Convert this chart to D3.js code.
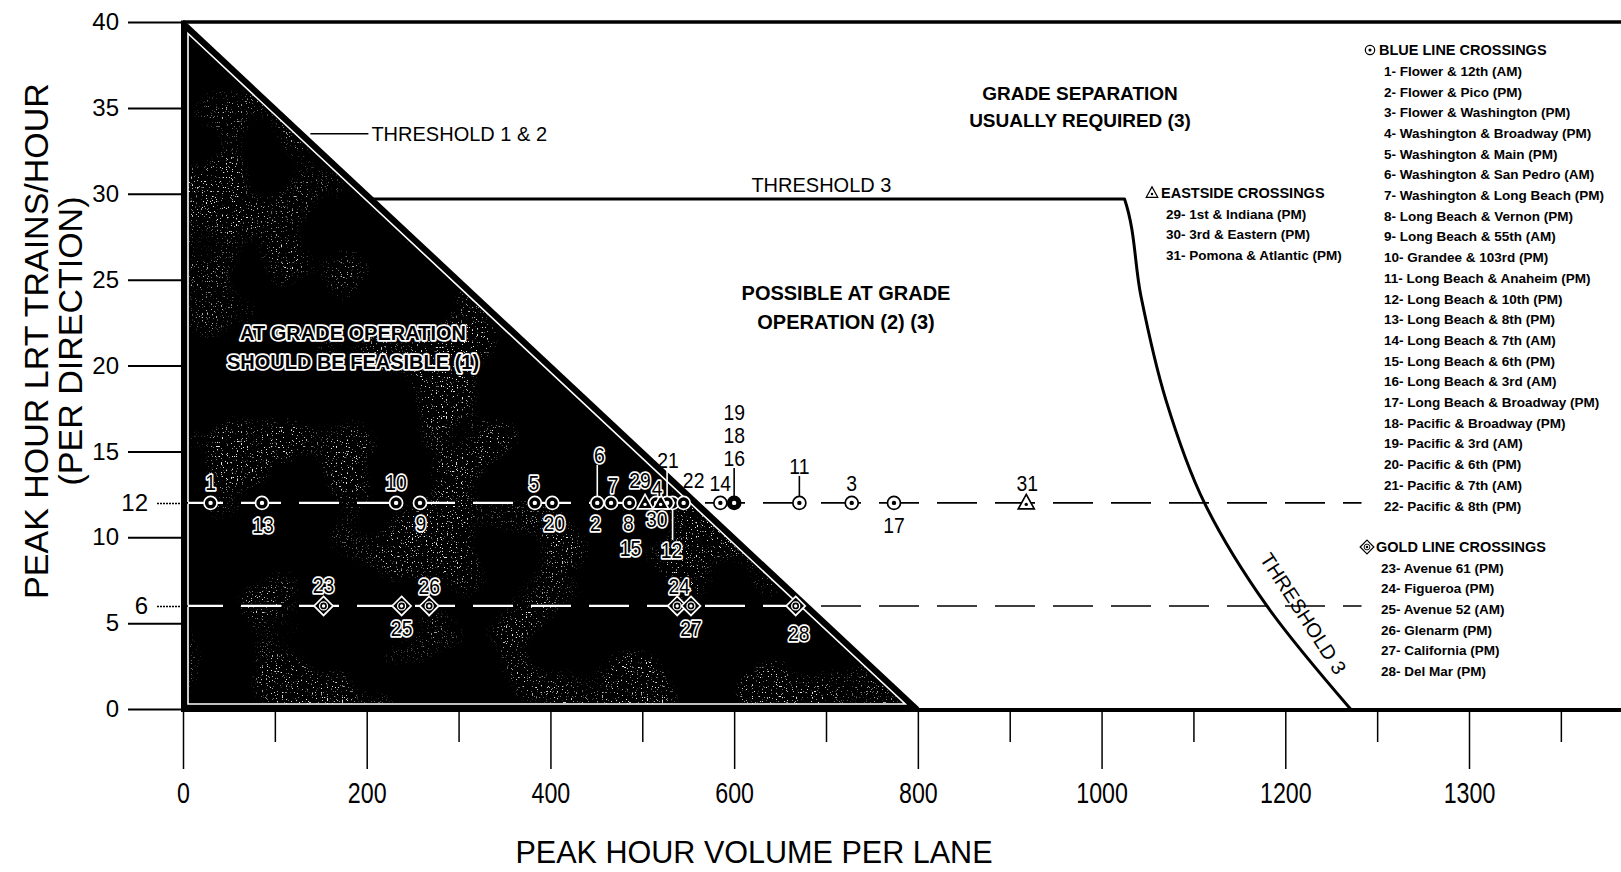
<!DOCTYPE html>
<html>
<head>
<meta charset="utf-8">
<script src="https://cdn.jsdelivr.net/npm/d3@7"></script>
<style>
  body { margin: 0; background: #fff; }
  svg { display: block; }
  text { font-family: "Liberation Sans", Arial, sans-serif; fill: #000; }
</style>
</head>
<body>
<svg id="chart"></svg>
<script>
// axis ticks
const xTickValues = [0, 100, 200, 300, 400, 500, 600, 700, 800, 900, 1000, 1100, 1200, 1300, 1400, 1500];
const xLabelValues = [0, 200, 400, 600, 800, 1000, 1200, 1400];
const xLabels = ["0", "200", "400", "600", "800", "1000", "1200", "1300"];
const yTickValues = [0, 5, 10, 15, 20, 25, 30, 35, 40];
const yExtraTicks = [12, 6];

// threshold lines (volume, trains)
const thr12Volume = [0, 800];
const thr12Trains = [40, 0];
const thr3Volume = [206, 1025, 1043, 1070, 1112, 1180, 1271];
const thr3Trains = [29.7, 29.7, 24, 18, 12, 6, 0];

// crossings
const blueIds = [1, 2, 3, 4, 5, 6, 7, 8, 9, 10, 11, 12, 13, 14, 15, 16, 17, 18, 19, 20, 21, 22];
const blueVolume = [30, 451, 728, 515, 383, 451, 466, 486, 258, 232, 671, 533, 86, 585, 486, 600, 774, 600, 600, 402, 527, 545];
const blueTrains = [12, 12, 12, 12, 12, 12, 12, 12, 12, 12, 12, 12, 12, 12, 12, 12, 12, 12, 12, 12, 12, 12];
const blueNames = ["Flower & 12th (AM)", "Flower & Pico (PM)", "Flower & Washington (PM)", "Washington & Broadway (PM)",
  "Washington & Main (PM)", "Washington & San Pedro (AM)", "Washington & Long Beach (PM)", "Long Beach & Vernon (PM)",
  "Long Beach & 55th (AM)", "Grandee & 103rd (PM)", "Long Beach & Anaheim (PM)", "Long Beach & 10th (PM)",
  "Long Beach & 8th (PM)", "Long Beach & 7th (AM)", "Long Beach & 6th (PM)", "Long Beach & 3rd (AM)",
  "Long Beach & Broadway (PM)", "Pacific & Broadway (PM)", "Pacific & 3rd (AM)", "Pacific & 6th (PM)",
  "Pacific & 7th (AM)", "Pacific & 8th (PM)"];

const goldIds = [23, 24, 25, 26, 27, 28];
const goldVolume = [153, 538, 238, 268, 553, 667];
const goldTrains = [6, 6, 6, 6, 6, 6];
const goldNames = ["Avenue 61 (PM)", "Figueroa (PM)", "Avenue 52 (AM)", "Glenarm (PM)", "California (PM)", "Del Mar (PM)"];

const eastIds = [29, 30, 31];
const eastVolume = [503, 520, 918];
const eastTrains = [12, 12, 12];
const eastNames = ["1st & Indiana (PM)", "3rd & Eastern (PM)", "Pomona & Atlantic (PM)"];

// label offsets from the marker (px) - layout only
const labelOffset = {
  1: [0, -21], 2: [-2, 20], 3: [0, -20], 4: [1, -15], 5: [-1, -20], 6: [2, -48], 7: [2, -18], 8: [-1, 20],
  9: [1, 20], 10: [0, -21], 11: [0, -37], 12: [-1, 47], 13: [1, 22], 14: [0, -20], 15: [1, 45], 16: [0, -45],
  17: [0, 22], 18: [0, -68], 19: [0, -91], 20: [2, 20], 21: [1, -43], 22: [10, -23],
  23: [0, -21], 24: [2, -20], 25: [0, 22], 26: [0, -20], 27: [0, 22], 28: [3, 27],
  29: [-5, -23], 30: [-4, 16], 31: [1, -20]
};
const leaderIds = [6, 11, 12, 16, 21];

const W = 1621, H = 872;
const x = d3.scaleLinear().domain([0, 1400]).range([183, 1469]);
const y = d3.scaleLinear().domain([0, 40]).range([709, 22]);
const rowEnd = 1283;   // the crossing rows stop before the legend

const svg = d3.select("#chart").attr("width", W).attr("height", H);
const defs = svg.append("defs");

// triangle "at grade" region
const triTop = [x(thr12Volume[0]), y(thr12Trains[0])];
const triRight = [x(thr12Volume[1]), y(thr12Trains[1])];
const triCorner = [x(0), y(0)];

function inset(o) {
  const dx = triRight[0] - triTop[0], dy = triRight[1] - triTop[1], len = Math.hypot(dx, dy);
  const qx = triTop[0] - o * dy / len, qy = triTop[1] + o * dx / len;
  const px = triCorner[0] + o, py = triCorner[1] - o;
  const yAtLeft = qy + (px - qx) / dx * dy;
  const xAtBottom = qx + (py - qy) / dy * dx;
  return [[px, yAtLeft], [xAtBottom, py], [px, py]];
}
const inner = inset(5);

defs.append("clipPath").attr("id", "triClip")
  .append("polygon").attr("points", inner.map(p => p.join(",")).join(" "));

// scanner speckle inside the black triangle
const f = defs.append("filter").attr("id", "speck")
  .attr("x", 0).attr("y", 0).attr("width", "100%").attr("height", "100%")
  .attr("color-interpolation-filters", "sRGB");
f.append("feTurbulence").attr("type", "fractalNoise").attr("baseFrequency", 0.8)
  .attr("numOctaves", 1).attr("seed", 4).attr("result", "hi");
f.append("feColorMatrix").attr("in", "hi").attr("type", "matrix")
  .attr("values", "0 0 0 0 1  0 0 0 0 1  0 0 0 0 1  14 0 0 0 -8.9").attr("result", "sp");
f.append("feTurbulence").attr("type", "fractalNoise").attr("baseFrequency", 0.012)
  .attr("numOctaves", 2).attr("seed", 23).attr("result", "lo");
f.append("feColorMatrix").attr("in", "lo").attr("type", "matrix")
  .attr("values", "0 0 0 0 1  0 0 0 0 1  0 0 0 0 1  7 0 0 0 -3.6").attr("result", "cl");
f.append("feComposite").attr("in", "sp").attr("in2", "cl").attr("operator", "in");

svg.append("polygon")
  .attr("points", [triTop, triRight, triCorner].map(p => p.join(",")).join(" "))
  .attr("fill", "#000");
svg.append("rect")
  .attr("x", triCorner[0]).attr("y", triTop[1]).attr("width", triRight[0] - triCorner[0]).attr("height", triCorner[1] - triTop[1])
  .attr("clip-path", "url(#triClip)").attr("filter", "url(#speck)").attr("opacity", 0.9);
svg.append("polygon")
  .attr("points", inner.map(p => p.join(",")).join(" "))
  .attr("fill", "none").attr("stroke", "#fff").attr("stroke-width", 1.6);

// frame
svg.append("line").attr("x1", x(0)).attr("x2", W).attr("y1", y(40)).attr("y2", y(40))
  .attr("stroke", "#000").attr("stroke-width", 3.5);
svg.append("line").attr("x1", x(0)).attr("x2", W).attr("y1", y(0) + 1).attr("y2", y(0) + 1)
  .attr("stroke", "#000").attr("stroke-width", 4);
svg.append("line").attr("x1", x(0)).attr("x2", x(0)).attr("y1", y(40) - 1.5).attr("y2", y(0) + 3)
  .attr("stroke", "#000").attr("stroke-width", 4);

const lineGen = d3.line().x(d => x(d[0])).y(d => y(d[1]));
svg.append("path").datum(thr12Volume.map((v, i) => [v, thr12Trains[i]]))
  .attr("d", lineGen).attr("fill", "none").attr("stroke", "#000").attr("stroke-width", 4);
svg.append("path").datum(thr3Volume.map((v, i) => [v, thr3Trains[i]]))
  .attr("d", d3.line().x(d => x(d[0])).y(d => y(d[1])).curve(d3.curveMonotoneY))
  .attr("fill", "none").attr("stroke", "#000").attr("stroke-width", 3).attr("stroke-linejoin", "round");

// dashed crossing rows
const rows = [12, 6];
rows.forEach(t => {
  svg.append("line").attr("x1", x(0)).attr("x2", x(rowEnd)).attr("y1", y(t)).attr("y2", y(t))
    .attr("stroke", "#000").attr("stroke-width", 1.6).attr("stroke-dasharray", "40,18");
  svg.append("line").attr("x1", x(0)).attr("x2", x(rowEnd)).attr("y1", y(t)).attr("y2", y(t))
    .attr("clip-path", "url(#triClip)")
    .attr("stroke", "#fff").attr("stroke-width", 2.2).attr("stroke-dasharray", "40,18");
});

// axes
const xAxis = svg.append("g").attr("transform", `translate(0,${y(0) + 3})`)
  .call(d3.axisBottom(x).tickValues(xTickValues).tickSize(57).tickPadding(13)
    .tickFormat(v => { const i = xLabelValues.indexOf(v); return i < 0 ? "" : xLabels[i]; }));
xAxis.select(".domain").remove();
xAxis.selectAll(".tick line").attr("stroke-width", 1.5)
  .attr("y2", v => xLabelValues.includes(v) ? 57 : 30);
xAxis.selectAll(".tick text").attr("font-size", 29).attr("fill", "#000")
  .attr("transform", "scale(0.8,1)");

const yAxis = svg.append("g").attr("transform", `translate(${x(0)},0)`)
  .call(d3.axisLeft(y).tickValues(yTickValues).tickSize(55).tickPadding(9));
yAxis.select(".domain").remove();
yAxis.selectAll(".tick line").attr("stroke-width", 2);
yAxis.selectAll(".tick text").attr("font-size", 24).attr("fill", "#000");

const yAxis2 = svg.append("g").attr("transform", `translate(${x(0)},0)`)
  .call(d3.axisLeft(y).tickValues(yExtraTicks).tickSize(26).tickPadding(9));
yAxis2.select(".domain").remove();
yAxis2.selectAll(".tick line").attr("stroke-width", 1.5).attr("stroke-dasharray", "2,1");
yAxis2.selectAll(".tick text").attr("font-size", 24).attr("fill", "#000");

// markers
function isInside(px, py) {
  const v = x.invert(px), t = y.invert(py);
  return v >= 0 && t >= 0 && t <= thr12Trains[0] * (1 - v / thr12Volume[1]);
}

function drawMarker(g, type, cx, cy, inside, filled, k) {
  const ink = inside ? "#fff" : "#000", paper = inside ? "#000" : "#fff";
  const m = g.append("g").attr("transform", `translate(${cx},${cy}) scale(${k || 1})`);
  if (type === "blue") {
    m.append("circle").attr("r", 6.5).attr("fill", filled ? ink : paper).attr("stroke", ink).attr("stroke-width", 1.7);
    m.append("circle").attr("r", 2.2).attr("fill", filled ? paper : ink);
  } else if (type === "gold") {
    m.append("path").attr("d", "M0,-9.5L9.5,0L0,9.5L-9.5,0Z").attr("fill", paper).attr("stroke", ink).attr("stroke-width", 1.7);
    m.append("circle").attr("r", 4).attr("fill", "none").attr("stroke", ink).attr("stroke-width", 1.3);
    m.append("circle").attr("r", 1.7).attr("fill", ink);
  } else {
    m.append("path").attr("d", "M0,-8.5L8,6L-8,6Z").attr("fill", paper).attr("stroke", ink).attr("stroke-width", 1.7);
    m.append("circle").attr("cy", 1.5).attr("r", 1.7).attr("fill", ink);
  }
}

const points = [];
blueIds.forEach((id, i) => points.push({ id, type: "blue", volume: blueVolume[i], trains: blueTrains[i] }));
goldIds.forEach((id, i) => points.push({ id, type: "gold", volume: goldVolume[i], trains: goldTrains[i] }));
eastIds.forEach((id, i) => points.push({ id, type: "east", volume: eastVolume[i], trains: eastTrains[i] }));

const markerG = svg.append("g");
const labelG = svg.append("g");

// leaders
points.filter(p => leaderIds.includes(p.id)).forEach(p => {
  const cx = x(p.volume), cy = y(p.trains);
  const [dx, dy] = labelOffset[p.id];
  const y2 = cy + dy + (dy < 0 ? 10 : -10);
  const y1 = cy + (dy < 0 ? -6 : 6);
  markerG.append("line").attr("x1", cx).attr("x2", cx).attr("y1", y1).attr("y2", y2)
    .attr("stroke", isInside(cx, (y1 + y2) / 2) ? "#fff" : "#000").attr("stroke-width", 1.6);
});

const groups = d3.group(points, p => p.type + "_" + p.volume + "_" + p.trains);
groups.forEach(arr => {
  const p = arr[0];
  const cx = x(p.volume), cy = y(p.trains);
  drawMarker(markerG, p.type, cx, cy, isInside(cx, cy), arr.length >= 3);
});

points.forEach(p => {
  const [dx, dy] = labelOffset[p.id];
  const lx = x(p.volume) + dx, ly = y(p.trains) + dy;
  const inside = isInside(lx, ly);
  const t = labelG.append("text")
    .attr("transform", `translate(${lx},${ly}) scale(0.88,1)`).attr("dy", "0.35em")
    .attr("text-anchor", "middle").attr("font-size", 22).text(p.id);
  if (inside) t.attr("stroke", "#fff").attr("stroke-width", 3.4).attr("paint-order", "stroke")
    .attr("stroke-linejoin", "round");
});

// annotations
const ann = svg.append("g");
const t12y = y(33.5);
const t12x = x(thr12Volume[1] * (1 - 33.5 / thr12Trains[0]));
ann.append("line").attr("x1", t12x + 8).attr("x2", t12x + 66).attr("y1", t12y).attr("y2", t12y)
  .attr("stroke", "#000").attr("stroke-width", 1.5);
ann.append("text").attr("x", t12x + 69).attr("y", t12y).attr("dy", "0.36em")
  .attr("font-size", 20).text("THRESHOLD 1 & 2");

ann.append("text").attr("x", x(695)).attr("y", y(thr3Trains[1]) - 14).attr("dy", "0.36em")
  .attr("text-anchor", "middle").attr("font-size", 20).text("THRESHOLD 3");

[["GRADE SEPARATION", 93], ["USUALLY REQUIRED (3)", 120]].forEach(d =>
  ann.append("text").attr("x", 1080).attr("y", d[1]).attr("dy", "0.36em").attr("text-anchor", "middle")
    .attr("font-size", 19).attr("font-weight", "bold").text(d[0]));
[["POSSIBLE AT GRADE", 293], ["OPERATION (2) (3)", 322]].forEach(d =>
  ann.append("text").attr("x", 846).attr("y", d[1]).attr("dy", "0.36em").attr("text-anchor", "middle")
    .attr("font-size", 20).attr("font-weight", "bold").text(d[0]));
[["AT GRADE OPERATION", 333], ["SHOULD BE FEASIBLE (1)", 362]].forEach(d =>
  ann.append("text").attr("x", 353).attr("y", d[1]).attr("dy", "0.36em").attr("text-anchor", "middle")
    .attr("font-size", 20).attr("font-weight", "bold")
    .attr("stroke", "#fff").attr("stroke-width", 3.4).attr("paint-order", "stroke").attr("stroke-linejoin", "round")
    .text(d[0]));

// rotated threshold 3 label beside the lower part of the curve
const n = thr3Volume.length;
const ax = x(thr3Volume[n - 2]), ay = y(thr3Trains[n - 2]), bx = x(thr3Volume[n - 1]), by = y(thr3Trains[n - 1]);
const ang = Math.atan2(by - ay, bx - ax) * 180 / Math.PI + 6;
const fr = 0.15;
ann.append("text")
  .attr("transform", `translate(${ax + fr * (bx - ax) + 24},${ay + fr * (by - ay) - 8}) rotate(${ang})`)
  .attr("text-anchor", "middle").attr("dy", "0.36em").attr("font-size", 20).text("THRESHOLD 3");

// axis titles
svg.append("text").attr("transform", "translate(36,341) rotate(-90)").attr("dy", "0.36em")
  .attr("text-anchor", "middle").attr("font-size", 34).text("PEAK HOUR LRT TRAINS/HOUR");
svg.append("text").attr("transform", "translate(70,341) rotate(-90)").attr("dy", "0.36em")
  .attr("text-anchor", "middle").attr("font-size", 34).text("(PER DIRECTION)");
svg.append("text").attr("x", 754).attr("y", 851).attr("dy", "0.36em")
  .attr("text-anchor", "middle").attr("font-size", 32)
  .attr("textLength", 477).attr("lengthAdjust", "spacingAndGlyphs").text("PEAK HOUR VOLUME PER LANE");

// legends
function legend(type, sx, sy, title, ids, names, step) {
  const g = svg.append("g");
  drawMarker(g, type, sx, sy, false, false, 0.72);
  g.append("text").attr("x", sx + 9).attr("y", sy).attr("dy", "0.36em")
    .attr("font-size", 14.5).attr("font-weight", "bold").text(title);
  ids.forEach((id, i) => {
    g.append("text").attr("x", sx + 14).attr("y", sy + 21 + i * step).attr("dy", "0.36em")
      .attr("font-size", 13.5).attr("font-weight", "bold").text(id + "- " + names[i]);
  });
}
legend("blue", 1370, 50, "BLUE LINE CROSSINGS", blueIds, blueNames, 20.7);
legend("gold", 1367, 547, "GOLD LINE CROSSINGS", goldIds, goldNames, 20.6);
legend("east", 1152, 193, "EASTSIDE CROSSINGS", eastIds, eastNames, 20.5);
</script>
</body>
</html>
